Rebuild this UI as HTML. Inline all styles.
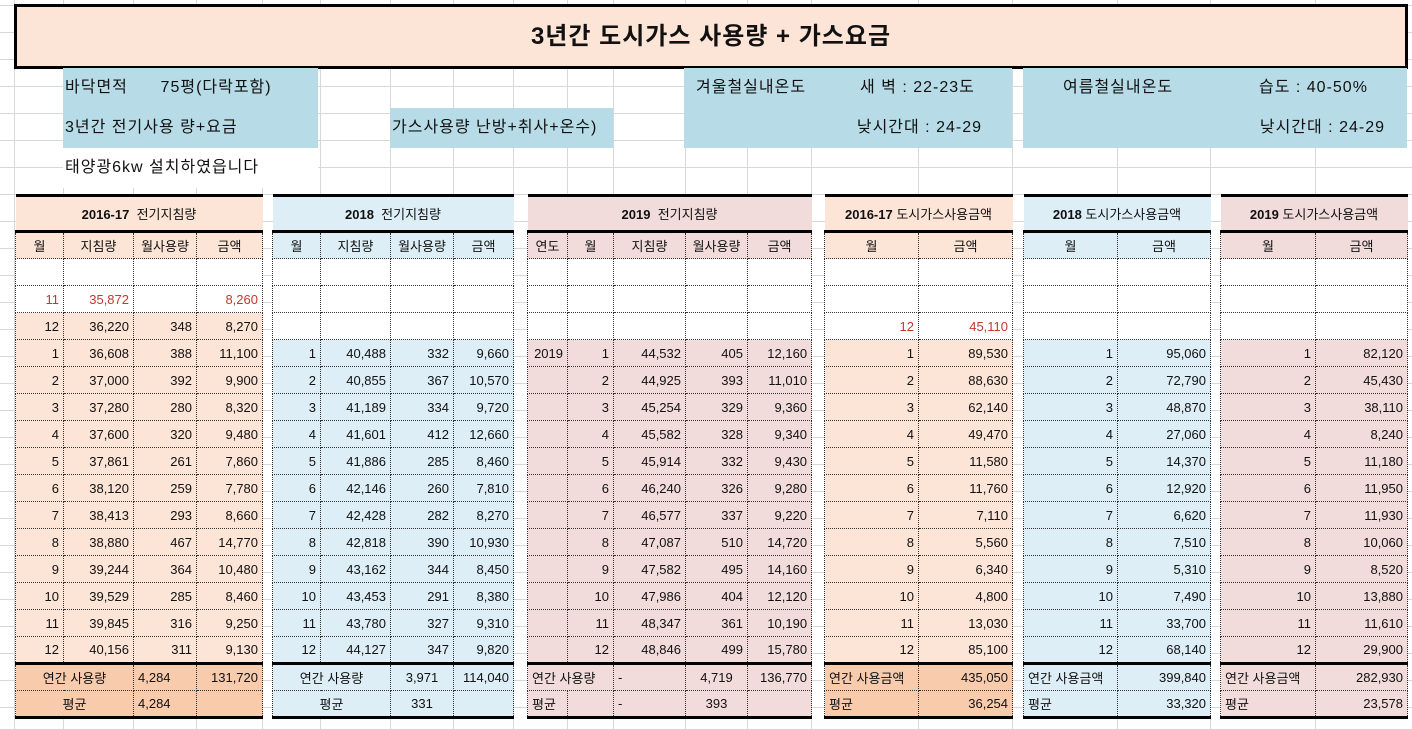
<!DOCTYPE html>
<html><head><meta charset="utf-8">
<style>
*{box-sizing:border-box;margin:0;padding:0}
body{width:1412px;height:729px;overflow:hidden;background:#fff;position:relative;font-family:"Liberation Sans","Noto Sans CJK KR",sans-serif;color:#111}
.grid{position:absolute;left:0;top:0;width:1412px;height:729px;
background-image:linear-gradient(#d8d8d8 1px,transparent 1px);background-size:100% 27px;background-position:0 5px}
.vl{position:absolute;top:0;height:729px;width:1px;background:#d8d8d8}
.title{position:absolute;left:14px;top:4px;width:1394px;height:65px;border:3px solid #000;background:#fce4d6;text-align:center;font-size:24px;font-weight:bold;line-height:59px;letter-spacing:1px}
.b{position:absolute;background:#b7dce8;font-size:16px;line-height:40px;white-space:pre;letter-spacing:1px}
.w{position:absolute;background:#fff;font-size:16px;line-height:40px;white-space:pre;letter-spacing:1px}
table{position:absolute;top:194px;border-collapse:collapse;table-layout:fixed;font-size:13px}
td{border:1px dotted #333;height:27px;padding:0 4px;text-align:right;white-space:nowrap;overflow:visible}
tr.h td{height:36px;text-align:center;border:none;border-top:3px solid #000;border-bottom:3px solid #000;font-size:13px}
tr.c td{text-align:center}
tr.t td{border-top:3px solid #000}
tr.a td{border-bottom:3px solid #000}
.r{color:#c0392b}
.p td{background:#fce4d6}.p .wt td{background:#fff}
.s td{background:#ddeef6}.s .wt td{background:#fff}
.k td{background:#f2dcdb}.k .wt td{background:#fff}
.p .o td{background:#f8cbad}
td.l{text-align:left}td.m{text-align:center}
</style></head><body>
<div class="grid"></div>
<div class="vl" style="left:14px"></div><div class="vl" style="left:63px"></div><div class="vl" style="left:133px"></div><div class="vl" style="left:196px"></div><div class="vl" style="left:262px"></div><div class="vl" style="left:320px"></div><div class="vl" style="left:390px"></div><div class="vl" style="left:453px"></div><div class="vl" style="left:513px"></div><div class="vl" style="left:567px"></div><div class="vl" style="left:613px"></div><div class="vl" style="left:685px"></div><div class="vl" style="left:747px"></div><div class="vl" style="left:811px"></div><div class="vl" style="left:918px"></div><div class="vl" style="left:1012px"></div><div class="vl" style="left:1117px"></div><div class="vl" style="left:1210px"></div><div class="vl" style="left:1315px"></div>
<div class="title">3년간 도시가스 사용량 + 가스요금</div>
<div class="b" style="left:63px;top:68px;width:255px;height:40px;padding-left:2px">바닥면적      75평(다락포함)</div>
<div class="b" style="left:63px;top:108px;width:255px;height:40px;padding-left:2px">3년간 전기사용 량+요금</div>
<div class="b" style="left:390px;top:108px;width:223px;height:40px;padding-left:2px">가스사용량 난방+취사+온수)</div>
<div class="w" style="left:63px;top:148px;width:255px;height:40px;padding-left:2px">태양광6kw 설치하였읍니다</div>
<div class="b" style="left:684px;top:68px;width:328px;height:80px"><span style="position:absolute;left:12px;top:0">겨울철실내온도</span><span style="position:absolute;left:176px;top:0">새 벽 : 22-23도</span><span style="position:absolute;right:30px;top:40px">낮시간대 : 24-29</span></div>
<div class="b" style="left:1023px;top:68px;width:384px;height:80px"><span style="position:absolute;left:40px;top:0">여름철실내온도</span><span style="position:absolute;left:236px;top:0">습도 : 40-50%</span><span style="position:absolute;right:22px;top:40px">낮시간대 : 24-29</span></div>

<table class="p" style="left:15px;width:247px">
<col style="width:48px"><col style="width:70px"><col style="width:63px"><col style="width:66px">
<tr class="h"><td colspan="4"><b>2016-17</b> &nbsp;전기지침량</td></tr>
<tr class="c"><td>월</td><td>지침량</td><td>월사용량</td><td>금액</td></tr>
<tr class="wt"><td></td><td></td><td></td><td></td></tr>
<tr class="wt r"><td class="r">11</td><td class="r">35,872</td><td></td><td class="r">8,260</td></tr>
<tr><td>12</td><td>36,220</td><td>348</td><td>8,270</td></tr>
<tr><td>1</td><td>36,608</td><td>388</td><td>11,100</td></tr>
<tr><td>2</td><td>37,000</td><td>392</td><td>9,900</td></tr>
<tr><td>3</td><td>37,280</td><td>280</td><td>8,320</td></tr>
<tr><td>4</td><td>37,600</td><td>320</td><td>9,480</td></tr>
<tr><td>5</td><td>37,861</td><td>261</td><td>7,860</td></tr>
<tr><td>6</td><td>38,120</td><td>259</td><td>7,780</td></tr>
<tr><td>7</td><td>38,413</td><td>293</td><td>8,660</td></tr>
<tr><td>8</td><td>38,880</td><td>467</td><td>14,770</td></tr>
<tr><td>9</td><td>39,244</td><td>364</td><td>10,480</td></tr>
<tr><td>10</td><td>39,529</td><td>285</td><td>8,460</td></tr>
<tr><td>11</td><td>39,845</td><td>316</td><td>9,250</td></tr>
<tr><td>12</td><td>40,156</td><td>311</td><td>9,130</td></tr>
<tr class="t o"><td colspan="2" class="m">연간 사용량</td><td class="l">4,284</td><td>131,720</td></tr>
<tr class="a o"><td colspan="2" class="m">평균</td><td class="l">4,284</td><td></td></tr>
</table>

<table class="s" style="left:272px;width:241px">
<col style="width:48px"><col style="width:70px"><col style="width:63px"><col style="width:60px">
<tr class="h"><td colspan="4"><b>2018</b> &nbsp;전기지침량</td></tr>
<tr class="c"><td>월</td><td>지침량</td><td>월사용량</td><td>금액</td></tr>
<tr class="wt"><td></td><td></td><td></td><td></td></tr>
<tr class="wt"><td></td><td></td><td></td><td></td></tr>
<tr class="wt"><td></td><td></td><td></td><td></td></tr>
<tr><td>1</td><td>40,488</td><td>332</td><td>9,660</td></tr>
<tr><td>2</td><td>40,855</td><td>367</td><td>10,570</td></tr>
<tr><td>3</td><td>41,189</td><td>334</td><td>9,720</td></tr>
<tr><td>4</td><td>41,601</td><td>412</td><td>12,660</td></tr>
<tr><td>5</td><td>41,886</td><td>285</td><td>8,460</td></tr>
<tr><td>6</td><td>42,146</td><td>260</td><td>7,810</td></tr>
<tr><td>7</td><td>42,428</td><td>282</td><td>8,270</td></tr>
<tr><td>8</td><td>42,818</td><td>390</td><td>10,930</td></tr>
<tr><td>9</td><td>43,162</td><td>344</td><td>8,450</td></tr>
<tr><td>10</td><td>43,453</td><td>291</td><td>8,380</td></tr>
<tr><td>11</td><td>43,780</td><td>327</td><td>9,310</td></tr>
<tr><td>12</td><td>44,127</td><td>347</td><td>9,820</td></tr>
<tr class="t"><td colspan="2" class="m">연간 사용량</td><td class="m">3,971</td><td>114,040</td></tr>
<tr class="a"><td colspan="2" class="m">평균</td><td class="m">331</td><td></td></tr>
</table>

<table class="k" style="left:527px;width:284px">
<col style="width:40px"><col style="width:46px"><col style="width:72px"><col style="width:62px"><col style="width:64px">
<tr class="h"><td colspan="5"><b>2019</b> &nbsp;전기지침량</td></tr>
<tr class="c"><td>연도</td><td>월</td><td>지침량</td><td>월사용량</td><td>금액</td></tr>
<tr class="wt"><td></td><td></td><td></td><td></td><td></td></tr>
<tr class="wt"><td></td><td></td><td></td><td></td><td></td></tr>
<tr class="wt"><td></td><td></td><td></td><td></td><td></td></tr>
<tr><td>2019</td><td>1</td><td>44,532</td><td>405</td><td>12,160</td></tr>
<tr><td></td><td>2</td><td>44,925</td><td>393</td><td>11,010</td></tr>
<tr><td></td><td>3</td><td>45,254</td><td>329</td><td>9,360</td></tr>
<tr><td></td><td>4</td><td>45,582</td><td>328</td><td>9,340</td></tr>
<tr><td></td><td>5</td><td>45,914</td><td>332</td><td>9,430</td></tr>
<tr><td></td><td>6</td><td>46,240</td><td>326</td><td>9,280</td></tr>
<tr><td></td><td>7</td><td>46,577</td><td>337</td><td>9,220</td></tr>
<tr><td></td><td>8</td><td>47,087</td><td>510</td><td>14,720</td></tr>
<tr><td></td><td>9</td><td>47,582</td><td>495</td><td>14,160</td></tr>
<tr><td></td><td>10</td><td>47,986</td><td>404</td><td>12,120</td></tr>
<tr><td></td><td>11</td><td>48,347</td><td>361</td><td>10,190</td></tr>
<tr><td></td><td>12</td><td>48,846</td><td>499</td><td>15,780</td></tr>
<tr class="t"><td colspan="2" class="l">연간 사용량</td><td class="l">-</td><td class="m">4,719</td><td>136,770</td></tr>
<tr class="a"><td class="l">평균</td><td></td><td class="l">-</td><td class="m">393</td><td></td></tr>
</table>

<table class="p" style="left:824px;width:188px">
<col style="width:94px"><col style="width:94px">
<tr class="h"><td colspan="2"><b>2016-17</b> 도시가스사용금액</td></tr>
<tr class="c"><td>월</td><td>금액</td></tr>
<tr class="wt"><td></td><td></td></tr>
<tr class="wt"><td></td><td></td></tr>
<tr class="wt"><td class="r">12</td><td class="r">45,110</td></tr>
<tr><td>1</td><td>89,530</td></tr><tr><td>2</td><td>88,630</td></tr><tr><td>3</td><td>62,140</td></tr><tr><td>4</td><td>49,470</td></tr><tr><td>5</td><td>11,580</td></tr><tr><td>6</td><td>11,760</td></tr><tr><td>7</td><td>7,110</td></tr><tr><td>8</td><td>5,560</td></tr><tr><td>9</td><td>6,340</td></tr><tr><td>10</td><td>4,800</td></tr><tr><td>11</td><td>13,030</td></tr><tr><td>12</td><td>85,100</td></tr>
<tr class="t o"><td class="l">연간 사용금액</td><td>435,050</td></tr>
<tr class="a o"><td class="l">평균</td><td>36,254</td></tr>
</table>

<table class="s" style="left:1023px;width:187px">
<col style="width:94px"><col style="width:93px">
<tr class="h"><td colspan="2"><b>2018</b> 도시가스사용금액</td></tr>
<tr class="c"><td>월</td><td>금액</td></tr>
<tr class="wt"><td></td><td></td></tr>
<tr class="wt"><td></td><td></td></tr>
<tr class="wt"><td></td><td></td></tr>
<tr><td>1</td><td>95,060</td></tr><tr><td>2</td><td>72,790</td></tr><tr><td>3</td><td>48,870</td></tr><tr><td>4</td><td>27,060</td></tr><tr><td>5</td><td>14,370</td></tr><tr><td>6</td><td>12,920</td></tr><tr><td>7</td><td>6,620</td></tr><tr><td>8</td><td>7,510</td></tr><tr><td>9</td><td>5,310</td></tr><tr><td>10</td><td>7,490</td></tr><tr><td>11</td><td>33,700</td></tr><tr><td>12</td><td>68,140</td></tr>
<tr class="t"><td class="l">연간 사용금액</td><td>399,840</td></tr>
<tr class="a"><td class="l">평균</td><td>33,320</td></tr>
</table>

<table class="k" style="left:1220px;width:187px">
<col style="width:95px"><col style="width:92px">
<tr class="h"><td colspan="2"><b>2019</b> 도시가스사용금액</td></tr>
<tr class="c"><td>월</td><td>금액</td></tr>
<tr class="wt"><td></td><td></td></tr>
<tr class="wt"><td></td><td></td></tr>
<tr class="wt"><td></td><td></td></tr>
<tr><td>1</td><td>82,120</td></tr><tr><td>2</td><td>45,430</td></tr><tr><td>3</td><td>38,110</td></tr><tr><td>4</td><td>8,240</td></tr><tr><td>5</td><td>11,180</td></tr><tr><td>6</td><td>11,950</td></tr><tr><td>7</td><td>11,930</td></tr><tr><td>8</td><td>10,060</td></tr><tr><td>9</td><td>8,520</td></tr><tr><td>10</td><td>13,880</td></tr><tr><td>11</td><td>11,610</td></tr><tr><td>12</td><td>29,900</td></tr>
<tr class="t"><td class="l">연간 사용금액</td><td>282,930</td></tr>
<tr class="a"><td class="l">평균</td><td>23,578</td></tr>
</table>
</body></html>
